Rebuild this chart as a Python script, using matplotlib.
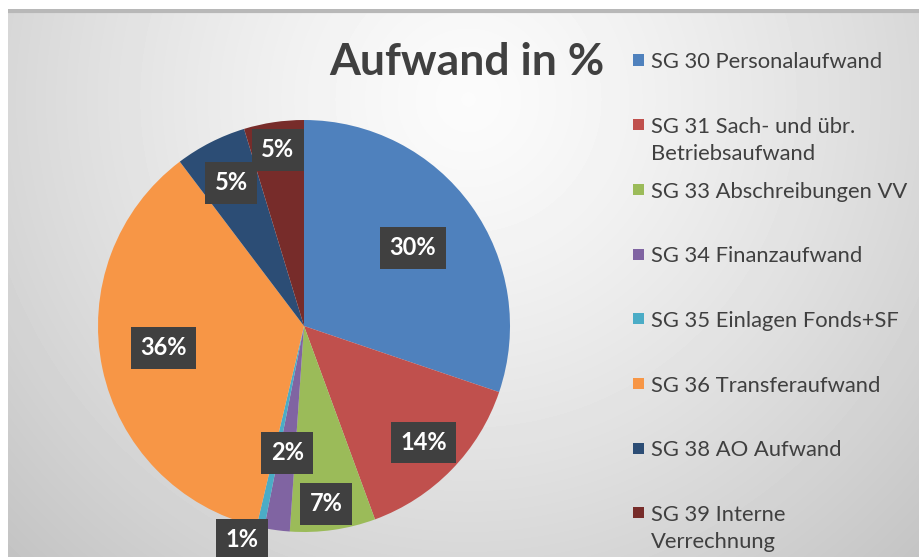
"""Pie chart of Aufwand shares by Sachgruppe, Excel-style."""

import matplotlib

matplotlib.use("Agg")
import matplotlib.pyplot as plt
import numpy as np
from matplotlib.patches import Rectangle

plt.rcParams["font.family"] = ["Lato", "DejaVu Sans"]

LABELS = [
    "SG 30 Personalaufwand",
    "SG 31 Sach- und übr.\nBetriebsaufwand",
    "SG 33 Abschreibungen VV",
    "SG 34 Finanzaufwand",
    "SG 35 Einlagen Fonds+SF",
    "SG 36 Transferaufwand",
    "SG 38 AO Aufwand",
    "SG 39 Interne\nVerrechnung",
]
SHARES = [30.2, 14.2, 6.7, 2.0, 0.6, 36.0, 5.6, 4.7]
PCT_TEXT = ["30%", "14%", "7%", "2%", "1%", "36%", "5%", "5%"]
COLORS = ["#4f81bd", "#c0504d", "#9bbb59", "#8064a2",
          "#4bacc6", "#f79646", "#2c4d75", "#772c2a"]

# label placement (fraction of radius, angle tweak in degrees)
LABEL_DIST = [0.65, 0.81, 0.87, 0.62, 1.08, 0.69, 0.78, 0.865]
LABEL_TWEAK = [0, 0, -1, 0, -4, -3, 0, 0]

W, H = 919, 557
fig = plt.figure(figsize=(W / 100, H / 100), dpi=100)
fig.patch.set_facecolor("white")

# background with radial gradient
bg = fig.add_axes([8 / W, 0, 1 - 8 / W, 1 - 9 / H])
yy, xx = np.mgrid[0:548, 0:911]
dist = np.hypot(xx - 460, yy - 90) / 650.0
shade = np.clip(0.985 - 0.22 * dist ** 1.3, 0.76, 1.0)
bg.imshow(shade, cmap="gray", vmin=0, vmax=1, aspect="auto",
          extent=[0, 1, 0, 1], origin="upper")
bg.axhline(0.997, color="#b8b8b8", lw=3)
bg.set_xlim(0, 1)
bg.set_ylim(0, 1)
bg.axis("off")

# pie: centre (304, 326) px, radius 206 px
cx, cy, r = 304, 326, 206
ax = fig.add_axes([(cx - r) / W, (H - cy - r) / H, 2 * r / W, 2 * r / H])
wedges, _ = ax.pie(SHARES, colors=COLORS, startangle=90, counterclock=False,
                   radius=1.0, wedgeprops=dict(linewidth=0))
ax.set_xlim(-1, 1)
ax.set_ylim(-1, 1)
ax.axis("off")

for w, txt, d, tw in zip(wedges, PCT_TEXT, LABEL_DIST, LABEL_TWEAK):
    mid = np.deg2rad((w.theta1 + w.theta2) / 2 + tw)
    ax.text(d * np.cos(mid), d * np.sin(mid), txt, ha="center", va="center",
            color="white", fontsize=17, fontweight="bold", clip_on=False,
            bbox=dict(boxstyle="square,pad=0.4", fc="#404040", ec="none"),
            zorder=5)

# title
fig.text(467 / W, 1 - 62 / H, "Aufwand in %", ha="center", va="center",
         fontsize=32, fontweight="bold", color="#404040")

# legend, drawn by hand to get Excel's spacing
step = 64.7
for i, (label, color) in enumerate(zip(LABELS, COLORS)):
    y = 60 + i * step
    fig.patches.append(Rectangle((633 / W, 1 - (y + 5.5) / H), 11 / W, 11 / H,
                                 transform=fig.transFigure, fc=color, ec="none"))
    fig.text(651 / W, 1 - (y - 7.8) / H, label, ha="left", va="top",
             fontsize=15.8, color="#404040", linespacing=1.42)

fig.savefig("out.png", dpi=100)
